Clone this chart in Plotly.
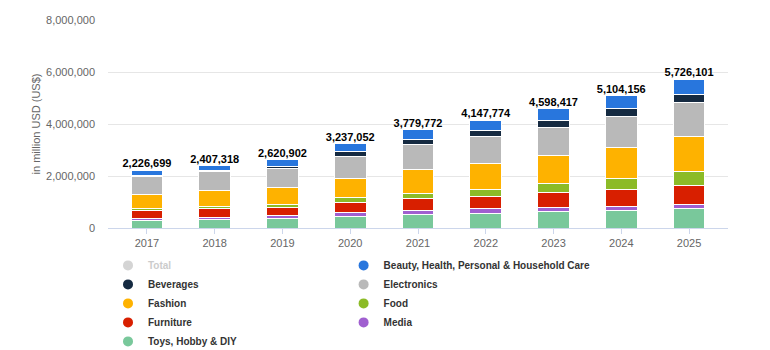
import plotly.graph_objects as go

years = ["2017", "2018", "2019", "2020", "2021", "2022", "2023", "2024", "2025"]

totals = [2226699, 2407318, 2620902, 3237052, 3779772, 4147774, 4598417, 5104156, 5726101]

toys = [286000, 327000, 362000, 429000, 523000, 555000, 637000, 681000, 745000]
media = [65000, 92000, 104000, 156000, 157000, 182000, 169000, 157000, 170000]
furniture = [339000, 340000, 311000, 403000, 458000, 481000, 559000, 641000, 732000]
food = [78000, 65000, 143000, 169000, 196000, 273000, 338000, 406000, 510000]
fashion = [534000, 615000, 636000, 741000, 916000, 1001000, 1091000, 1230000, 1373000]
electronics = [664000, 720000, 727000, 871000, 968000, 1014000, 1065000, 1165000, 1281000]
beverages = [52000, 52000, 91000, 156000, 196000, 234000, 273000, 301000, 340000]
beauty = [208000, 196000, 246000, 312000, 366000, 403000, 466000, 524000, 575000]

# stacking order bottom -> top: (name, values, colour, legend, rank)
series = [
    ("Toys, Hobby & DIY", toys, "#79c89b", "legend", 5),
    ("Media", media, "#a05fd0", "legend2", 4),
    ("Furniture", furniture, "#d81f00", "legend", 4),
    ("Food", food, "#8cbb27", "legend2", 3),
    ("Fashion", fashion, "#feb200", "legend", 3),
    ("Electronics", electronics, "#b9b9b9", "legend2", 2),
    ("Beverages", beverages, "#152a41", "legend", 2),
    ("Beauty, Health, Personal & Household Care", beauty, "#2876dd", "legend2", 1),
]

FONT = "Liberation Sans, Arial, sans-serif"

fig = go.Figure()

for name, vals, color, leg, rank in series:
    fig.add_trace(go.Bar(
        x=years, y=vals, name=name,
        marker=dict(color=color, line=dict(color="#ffffff", width=1)),
        showlegend=False,
    ))
    # legend entry with circular symbol
    fig.add_trace(go.Scatter(
        x=[None], y=[None], mode="markers", name=name,
        marker=dict(color=color, size=10, symbol="circle"),
        legend=leg, legendrank=rank, showlegend=True,
    ))

# hidden Total series (legend only)
fig.add_trace(go.Scatter(
    x=years, y=totals, mode="markers", name='<span style="color:#999999">Total</span>',
    marker=dict(color="#aaaaaa", size=10, symbol="circle"),
    visible="legendonly", legend="legend", legendrank=1,
))

# total labels above the stacks
fig.add_trace(go.Scatter(
    x=years, y=totals, mode="text",
    text=[f"{v:,}" for v in totals],
    textposition="top center",
    textfont=dict(family=FONT, size=11, color="#000000", weight="bold"),
    showlegend=False, cliponaxis=False, hoverinfo="skip",
))

legend_common = dict(
    orientation="v", yanchor="top", y=-0.11, xanchor="left",
    itemwidth=30,
    font=dict(family=FONT, size=10, color="#333333", weight="bold"),
    traceorder="normal", bgcolor="rgba(0,0,0,0)",
)

fig.update_layout(
    width=770, height=350,
    margin=dict(l=108, r=42, t=20, b=122, autoexpand=False),
    barmode="stack", bargap=0.53,
    plot_bgcolor="#ffffff", paper_bgcolor="#ffffff",
    font=dict(family=FONT, size=11, color="#666666"),
    legend=dict(x=0.0, **legend_common),
    legend2=dict(x=0.38, **legend_common),
    xaxis=dict(
        type="category", range=[-0.575, 8.575],
        showgrid=False, showline=True, linecolor="#ccd6eb", linewidth=1,
        ticks="outside", ticklen=5, tickcolor="#ccd6eb",
        tickfont=dict(family=FONT, size=11, color="#666666"),
    ),
    yaxis=dict(
        range=[0, 8000000], dtick=2000000, tickformat=",",
        showgrid=True, gridcolor="#e6e6e6", zeroline=False,
        ticklabelstandoff=12,
        tickfont=dict(family=FONT, size=11, color="#666666"),
        title=dict(text="in million USD (US$)", standoff=3,
                   font=dict(family=FONT, size=11, color="#666666")),
    ),
)

fig.write_html("out.html")
